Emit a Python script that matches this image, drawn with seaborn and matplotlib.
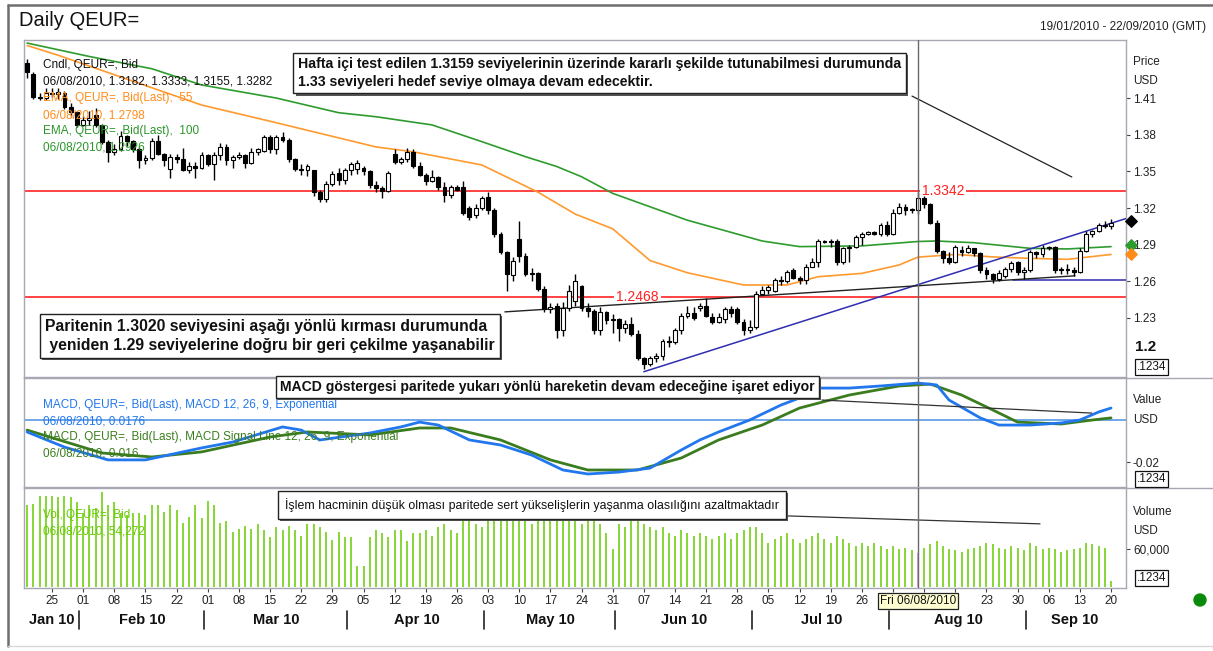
import numpy as np
import pandas as pd
import matplotlib
matplotlib.use("Agg")
import matplotlib.pyplot as plt
import seaborn as sns
from matplotlib import font_manager as fm, patheffects as pe
from matplotlib.lines import Line2D
from matplotlib.patches import Ellipse
from matplotlib.transforms import blended_transform_factory as btf

sns.set_style("white")
avail = {f.name for f in fm.fontManager.ttflist}
SANS = "Liberation Sans" if "Liberation Sans" in avail else "DejaVu Sans"
plt.rcParams["font.family"] = [SANS, "DejaVu Sans"]

# ---------------- data ----------------
DATES = pd.bdate_range("2010-01-19", "2010-09-20")

OPEN = [1.4390,1.4300,1.4110,1.4100,1.4140,1.4130,1.4145,1.4030,1.3985,1.3880,
        1.3920,1.3960,1.3880,1.3740,1.3660,1.3680,1.3790,1.3750,1.3680,1.3590,
        1.3610,1.3750,1.3640,1.3520,1.3620,1.3600,1.3510,1.3540,1.3530,1.3630,
        1.3560,1.3630,1.3700,1.3590,1.3620,1.3630,1.3570,1.3660,1.3670,1.3780,
        1.3680,1.3780,1.3760,1.3600,1.3520,1.3510,1.3510,1.3330,1.3270,1.3400,
        1.3490,1.3430,1.3510,1.3520,1.3530,1.3500,1.3390,1.3360,1.3340,1.3640,
        1.3580,1.3600,1.3660,1.3540,1.3470,1.3420,1.3450,1.3370,1.3310,1.3370,
        1.3370,1.3200,1.3140,1.3200,1.3290,1.3180,1.2990,1.2840,1.2650,1.2950,
        1.2810,1.2660,1.2670,1.2540,1.2370,1.2400,1.2200,1.2380,1.2440,1.2560,
        1.2380,1.2360,1.2200,1.2350,1.2280,1.2290,1.2220,1.2250,1.2170,1.1970,
        1.1920,1.1970,1.1990,1.2110,1.2100,1.2200,1.2320,1.2340,1.2380,1.2400,
        1.2310,1.2270,1.2290,1.2370,1.2370,1.2270,1.2200,1.2230,1.2500,1.2530,
        1.2520,1.2610,1.2600,1.2690,1.2630,1.2610,1.2720,1.2760,1.2930,1.2920,
        1.2930,1.2760,1.2870,1.2880,1.2960,1.2990,1.3000,1.2990,1.3060,1.2990,
        1.3160,1.3210,1.3180,1.3182,1.3280,1.3230,1.3080,1.2850,1.2790,1.2760,
        1.2860,1.2840,1.2870,1.2830,1.2690,1.2660,1.2620,1.2640,1.2700,1.2760,
        1.2680,1.2690,1.2840,1.2820,1.2870,1.2880,1.2690,1.2700,1.2690,1.2680,
        1.2850,1.2990,1.3010,1.3060,1.3050]
HIGH = [1.4420,1.4310,1.4140,1.4180,1.4185,1.4180,1.4160,1.4060,1.3990,1.3950,
        1.3990,1.4015,1.3890,1.3760,1.3720,1.3830,1.3800,1.3760,1.3700,1.3630,
        1.3770,1.3800,1.3650,1.3640,1.3640,1.3690,1.3580,1.3580,1.3660,1.3640,
        1.3660,1.3730,1.3720,1.3630,1.3660,1.3640,1.3690,1.3690,1.3800,1.3800,
        1.3800,1.3825,1.3770,1.3610,1.3560,1.3560,1.3510,1.3350,1.3420,1.3500,
        1.3525,1.3530,1.3580,1.3590,1.3540,1.3510,1.3420,1.3380,1.3500,1.3680,
        1.3620,1.3690,1.3680,1.3580,1.3490,1.3510,1.3460,1.3410,1.3390,1.3390,
        1.3420,1.3220,1.3230,1.3300,1.3330,1.3200,1.3000,1.2850,1.2800,1.3090,
        1.2830,1.2710,1.2680,1.2560,1.2420,1.2420,1.2430,1.2570,1.2660,1.2570,
        1.2420,1.2370,1.2390,1.2360,1.2330,1.2300,1.2280,1.2310,1.2200,1.1980,
        1.1990,1.2010,1.2130,1.2150,1.2220,1.2340,1.2400,1.2390,1.2420,1.2460,
        1.2340,1.2340,1.2390,1.2400,1.2390,1.2290,1.2280,1.2520,1.2560,1.2570,
        1.2630,1.2640,1.2690,1.2710,1.2640,1.2740,1.2790,1.2950,1.2940,1.2950,
        1.2950,1.2880,1.2900,1.2980,1.3000,1.3010,1.3010,1.3080,1.3090,1.3190,
        1.3240,1.3230,1.3200,1.3333,1.3300,1.3240,1.3100,1.2860,1.2840,1.2900,
        1.2890,1.2900,1.2870,1.2840,1.2720,1.2670,1.2690,1.2720,1.2770,1.2770,
        1.2720,1.2860,1.2850,1.2900,1.2890,1.2890,1.2720,1.2740,1.2720,1.2870,
        1.3010,1.3020,1.3080,1.3090,1.3110]
LOW = [1.4265,1.4090,1.4080,1.4085,1.4110,1.4095,1.4010,1.3945,1.3860,1.3870,
       1.3880,1.3860,1.3720,1.3580,1.3630,1.3670,1.3710,1.3660,1.3530,1.3560,
       1.3590,1.3630,1.3540,1.3445,1.3570,1.3500,1.3490,1.3445,1.3520,1.3540,
       1.3430,1.3590,1.3550,1.3525,1.3600,1.3525,1.3560,1.3630,1.3660,1.3650,
       1.3640,1.3740,1.3580,1.3500,1.3470,1.3460,1.3300,1.3250,1.3250,1.3380,
       1.3390,1.3400,1.3470,1.3480,1.3470,1.3360,1.3330,1.3280,1.3330,1.3560,
       1.3560,1.3580,1.3530,1.3460,1.3390,1.3410,1.3350,1.3250,1.3280,1.3340,
       1.3140,1.3100,1.3120,1.3180,1.3150,1.2960,1.2820,1.2520,1.2600,1.2760,
       1.2640,1.2600,1.2520,1.2350,1.2340,1.2140,1.2150,1.2360,1.2400,1.2360,
       1.2310,1.2170,1.2160,1.2250,1.2180,1.2110,1.2180,1.2150,1.1960,1.1880,
       1.1910,1.1940,1.1960,1.2060,1.2090,1.2170,1.2300,1.2280,1.2360,1.2310,
       1.2250,1.2260,1.2260,1.2310,1.2250,1.2160,1.2180,1.2210,1.2490,1.2500,
       1.2510,1.2570,1.2590,1.2620,1.2580,1.2580,1.2720,1.2720,1.2910,1.2880,
       1.2730,1.2740,1.2760,1.2870,1.2900,1.2980,1.2980,1.2970,1.2970,1.2980,
       1.3150,1.3140,1.3160,1.3155,1.3200,1.3070,1.2830,1.2750,1.2740,1.2750,
       1.2810,1.2830,1.2810,1.2670,1.2620,1.2590,1.2600,1.2630,1.2680,1.2650,
       1.2620,1.2680,1.2790,1.2800,1.2860,1.2670,1.2660,1.2660,1.2640,1.2670,
       1.2840,1.2960,1.3000,1.3040,1.3030]
CLOSE = [1.4310,1.4110,1.4100,1.4140,1.4130,1.4150,1.4030,1.3985,1.3880,1.3920,
         1.3940,1.3880,1.3740,1.3660,1.3680,1.3790,1.3750,1.3680,1.3590,1.3610,
         1.3750,1.3640,1.3590,1.3620,1.3600,1.3510,1.3540,1.3530,1.3630,1.3560,
         1.3630,1.3700,1.3590,1.3620,1.3630,1.3570,1.3660,1.3680,1.3780,1.3680,
         1.3780,1.3760,1.3600,1.3520,1.3510,1.3540,1.3330,1.3270,1.3400,1.3480,
         1.3430,1.3510,1.3560,1.3570,1.3500,1.3390,1.3360,1.3340,1.3490,1.3580,
         1.3600,1.3660,1.3540,1.3470,1.3420,1.3450,1.3370,1.3310,1.3370,1.3350,
         1.3160,1.3130,1.3200,1.3280,1.3180,1.2990,1.2840,1.2660,1.2770,1.2810,
         1.2660,1.2670,1.2540,1.2370,1.2390,1.2200,1.2380,1.2520,1.2600,1.2380,
         1.2360,1.2200,1.2350,1.2280,1.2290,1.2220,1.2250,1.2170,1.1970,1.1920,
         1.1970,1.1990,1.2110,1.2100,1.2200,1.2320,1.2340,1.2300,1.2400,1.2320,
         1.2270,1.2310,1.2370,1.2340,1.2270,1.2200,1.2230,1.2500,1.2530,1.2550,
         1.2610,1.2600,1.2680,1.2630,1.2610,1.2720,1.2760,1.2930,1.2920,1.2930,
         1.2760,1.2870,1.2880,1.2960,1.2990,1.3000,1.2990,1.3060,1.2990,1.3160,
         1.3210,1.3180,1.3190,1.3282,1.3230,1.3080,1.2850,1.2790,1.2760,1.2880,
         1.2840,1.2870,1.2830,1.2690,1.2660,1.2620,1.2670,1.2700,1.2750,1.2680,
         1.2690,1.2840,1.2820,1.2870,1.2880,1.2690,1.2700,1.2690,1.2680,1.2850,
         1.2990,1.3010,1.3060,1.3050,1.3080]
VOLUME_K = [129,131,144,144,144,142,144,142,134,117,
            129,125,150,129,134,117,114,117,117,114,
            129,129,118,129,122,101,111,129,109,136,
            129,101,104,87,92,96,92,99,90,79,
            95,90,96,90,81,99,99,95,87,74,
            87,79,79,33,33,79,90,85,79,90,
            90,73,85,85,90,80,95,100,90,85,
            115,110,100,95,105,120,135,150,140,125,
            110,100,115,120,110,120,110,115,120,100,
            105,110,100,85,60,100,95,105,110,100,
            95,90,95,85,80,90,85,80,85,80,
            75,80,85,75,85,90,95,95,85,70,
            75,80,85,75,70,75,80,85,75,70,
            80,75,70,65,70,65,70,65,60,65,
            60,62,58,54,62,68,72,65,60,58,
            55,60,62,65,70,68,62,60,65,62,
            58,70,65,60,62,60,55,58,60,62,
            70,68,65,62,10]

EMA55_IDX = [0,5,28,39,56,62,73,82,88,94,100,106,115,122,127,134,140,143,149,155,161,167,174]
EMA55_VAL = [1.453,1.445,1.4043,1.391,1.370,1.366,1.3552,1.333,1.315,1.303,1.277,1.267,1.257,
             1.257,1.2638,1.2665,1.2734,1.2798,1.282,1.280,1.2788,1.278,1.282]
EMA100_IDX = [0,10,20,28,40,50,56,65,73,80,85,89,94,106,118,124,134,143,146,152,161,167,174]
EMA100_VAL = [1.455,1.444,1.434,1.4207,1.410,1.398,1.3947,1.388,1.3743,1.362,1.354,1.3456,1.332,
              1.310,1.293,1.2884,1.289,1.2926,1.293,1.2916,1.287,1.2865,1.2884]

MACD_IDX = [0,6,13,19,28,33,41,44,47,55,60,63,66,71,76,81,86,90,95,100,105,108,111,116,121,
            124,127,132,137,143,146,148,153,156,161,166,169,172,174]
MACD_VAL = [-0.0057,-0.0129,-0.019,-0.019,-0.0133,-0.0105,-0.0033,-0.0048,-0.0095,-0.0062,
            -0.0033,-0.001,-0.0024,-0.0095,-0.0119,-0.0167,-0.0238,-0.0257,-0.0248,-0.0229,
            -0.0143,-0.0095,-0.0057,0.0,0.0071,0.0105,0.0152,0.0152,0.0162,0.0176,
            0.0167,0.0095,0.001,-0.0024,-0.0024,-0.0014,0.0,0.0038,0.0057]
SIGNAL_IDX = [0,12,20,28,39,45,55,63,68,76,84,90,98,105,111,118,124,132,140,145,150,155,159,166,171,174]
SIGNAL_VAL = [-0.0048,-0.0157,-0.0176,-0.0152,-0.0081,-0.0057,-0.0071,-0.0038,-0.0038,-0.0095,
              -0.019,-0.0238,-0.0238,-0.0181,-0.0095,-0.0024,0.0057,0.0119,0.0162,0.0171,
              0.0119,0.0048,-0.001,-0.0019,0.0,0.001]

RED_LEVELS = [1.3342, 1.2468]
RED_LABEL_IDX = [147, 98]
BLUE_TREND = ([99, 176.4], [1.186, 1.3114])
BLUE_FLAT = ([158.3, 176.4], [1.2611, 1.2611])
BLACK_TREND = ([76.7, 168.2], [1.2350, 1.2645])
NOTE_LINE_P = ([142.05, 167.7], [1.4116, 1.3454])
NOTE_LINE_M = ([127.6, 170.9], [0.0095, 0.0033])
NOTE_LINE_V = ([122.1, 162.6], [112, 99.5])
LAST_MARKERS = [1.3093, 1.2897, 1.2826]

PRICE_TICKS = [1.23, 1.26, 1.29, 1.32, 1.35, 1.38, 1.41]
CURSOR_IDX = 143
HIDDEN_DAY_LABELS = ["2010-08-02", "2010-08-09", "2010-08-16"]  # covered by the cursor tooltip

# ---------------- figure ----------------
W, H = 1213, 651
fig = plt.figure(figsize=(W / 100, H / 100), dpi=100)
fig.patch.set_facecolor("white")


def fx(x):
    return x / W


def fy(y):
    return 1 - y / H


L, R = 24, 1126
ax_p = fig.add_axes([fx(L), fy(377), (R - L) / W, (377 - 40) / H])
ax_m = fig.add_axes([fx(L), fy(487), (R - L) / W, (487 - 378) / H], sharex=ax_p)
ax_v = fig.add_axes([fx(L), fy(588), (R - L) / W, (588 - 488) / H], sharex=ax_p)

SPINE = "#A8A8B4"
for ax in (ax_p, ax_m, ax_v):
    ax.set_facecolor("white")
    for s in ax.spines.values():
        s.set_color(SPINE)
        s.set_linewidth(1)
    ax.yaxis.tick_right()
    ax.tick_params(axis="y", which="both", direction="out", length=3, width=0.8,
                   color="#444444", labelsize=8.5, labelcolor="#222222", pad=2,
                   left=False, labelleft=False)
    ax.grid(False)

ax_p.set_xlim(-0.5, 176.4)
ax_p.set_ylim(1.1817, 1.4575)
ax_m.set_ylim(-0.0319, 0.0200)
ax_v.set_ylim(-1.6, 156)

x = np.arange(len(DATES))
O = np.array(OPEN); Hh = np.array(HIGH); Lo = np.array(LOW); C = np.array(CLOSE)
up = C >= O

# EMA lines
sns.lineplot(x=EMA100_IDX, y=EMA100_VAL, ax=ax_p, color="#2E9B2E", lw=1.2, zorder=2)
sns.lineplot(x=EMA55_IDX, y=EMA55_VAL, ax=ax_p, color="#FF9A2E", lw=1.2, zorder=2)

# red levels
for lev, li in zip(RED_LEVELS, RED_LABEL_IDX):
    ax_p.axhline(lev, color="#FF1010", lw=1.1, zorder=1.5)
    ax_p.text(li, lev, f"{lev:.4f}", color="#FF2020", fontsize=10, ha="center", va="center",
              bbox=dict(boxstyle="square,pad=0.15", fc="white", ec="none"), zorder=2.5)

# trend lines
sns.lineplot(x=BLUE_TREND[0], y=BLUE_TREND[1], ax=ax_p, color="#2E2EB0", lw=1.1, zorder=2.6)
sns.lineplot(x=BLUE_FLAT[0], y=BLUE_FLAT[1], ax=ax_p, color="#2E2EB0", lw=1.1, zorder=2.6)
sns.lineplot(x=BLACK_TREND[0], y=BLACK_TREND[1], ax=ax_p, color="#222222", lw=1.0, zorder=2.6)
sns.lineplot(x=NOTE_LINE_P[0], y=NOTE_LINE_P[1], ax=ax_p, color="#222222", lw=0.9, zorder=2.6)

# candles
ax_p.vlines(x, Lo, Hh, color="black", lw=1, zorder=3)
ax_p.bar(x[up], np.maximum(C[up] - O[up], 0.0002), bottom=O[up], width=0.62,
         color="white", edgecolor="black", lw=0.8, zorder=4)
ax_p.bar(x[~up], O[~up] - C[~up], bottom=C[~up], width=0.62,
         color="black", edgecolor="black", lw=0.8, zorder=4)

# last value markers
for val, col in zip(LAST_MARKERS, ["black", "#2E9B2E", "#FF8C1A"]):
    ax_p.scatter([177.2], [val], marker="D", s=34, color=col, clip_on=False, zorder=6)

# MACD
ax_m.axhline(0, color="#4A90E2", lw=1.1, zorder=1)
sns.lineplot(x=SIGNAL_IDX, y=SIGNAL_VAL, ax=ax_m, color="#3B7D1E", lw=2.0, zorder=3)
sns.lineplot(x=MACD_IDX, y=MACD_VAL, ax=ax_m, color="#2277EE", lw=2.0, zorder=3)
sns.lineplot(x=NOTE_LINE_M[0], y=NOTE_LINE_M[1], ax=ax_m, color="#333333", lw=0.9, zorder=4)

# Volume
vcol = ["#E080E0" if i == CURSOR_IDX else "#66CC00" for i in x]
ax_v.vlines(x, 0, VOLUME_K, colors=vcol, lw=1.1, zorder=2)
sns.lineplot(x=NOTE_LINE_V[0], y=NOTE_LINE_V[1], ax=ax_v, color="#333333", lw=0.9, zorder=4)

# cursor
for ax in (ax_p, ax_m, ax_v):
    ax.axvline(CURSOR_IDX, color="#6A6A6A", lw=1, zorder=5)
    ax.set_xlabel("")
    ax.set_ylabel("")

# y ticks
ax_p.set_yticks(PRICE_TICKS)
ax_p.set_yticklabels([f"{t:.2f}" for t in PRICE_TICKS])
ax_m.set_yticks([-0.02])
ax_m.set_yticklabels(["-0.02"])
ax_v.set_yticks([60])
ax_v.set_yticklabels(["60,000"])

# x ticks
hidden = set(pd.to_datetime(HIDDEN_DAY_LABELS))
mondays = [i for i, d in enumerate(DATES) if d.weekday() == 0]
ax_v.set_xticks(mondays)
ax_v.set_xticklabels(["" if DATES[i] in hidden else DATES[i].strftime("%d") for i in mondays])
ax_v.tick_params(axis="x", direction="out", length=3, width=0.8, color="#444444",
                 labelsize=8.5, labelcolor="#222222", pad=2, bottom=True)
for ax in (ax_p, ax_m):
    ax.tick_params(axis="x", bottom=False, labelbottom=False)

# month labels & separators
tr = btf(ax_v.transData, fig.transFigure)
months = pd.Series(range(len(DATES)), index=DATES).groupby(DATES.to_period("M"))
for per, grp in months:
    s, e = grp.iloc[0], grp.iloc[-1]
    cx = (max(s, -0.5) + min(e + 1.4, 176.4)) / 2 if per.month == 9 else (s + e) / 2
    ax_v.text(cx, fy(620), per.strftime("%b %y"), transform=tr, ha="center", va="center",
              fontsize=10.5, fontweight="bold", color="#111111")
    if s > 0:
        ax_v.add_line(Line2D([s - 0.6, s - 0.6], [fy(629), fy(611)], transform=tr,
                             color="#222222", lw=1.2, clip_on=False))

# ---------------- texts ----------------
def ftext(x0, y0, s, **kw):
    return fig.text(fx(x0), fy(y0), s, **kw)


ftext(19, 20, "Daily QEUR=", fontsize=14.5, va="center", ha="left", color="#111111")
ftext(1206, 27, "19/01/2010 - 22/09/2010 (GMT)", fontsize=8.5, va="center", ha="right",
      color="#222222")

leg = dict(fontsize=8.5, va="center", ha="left")
ftext(43, 65, "Cndl, QEUR=, Bid", color="#111111", **leg)
ftext(43, 81, "06/08/2010, 1.3182, 1.3333, 1.3155, 1.3282", color="#111111", **leg)
ftext(43, 98, "EMA, QEUR=, Bid(Last),  55", color="#FF8C1A", **leg)
ftext(43, 115, "06/08/2010, 1.2798", color="#FF8C1A", **leg)
ftext(43, 131, "EMA, QEUR=, Bid(Last),  100", color="#2A962A", **leg)
ftext(43, 147, "06/08/2010, 1.2926", color="#2A962A", **leg)
ftext(43, 405, "MACD, QEUR=, Bid(Last), MACD 12, 26, 9, Exponential", color="#2277EE", **leg)
ftext(43, 421, "06/08/2010, 0.0176", color="#2277EE", **leg)
ftext(43, 437, "MACD, QEUR=, Bid(Last), MACD Signal Line 12, 26, 9, Exponential",
      color="#3B7D1E", **leg)
ftext(43, 454, "06/08/2010, 0.016", color="#3B7D1E", **leg)
ftext(43, 515, "Vol, QEUR=, Bid", color="#66CC00", **leg)
ftext(43, 532, "06/08/2010, 54,272", color="#66CC00", **leg)

rl = dict(fontsize=8.5, va="center", ha="left", color="#222222")
ftext(1133, 62, "Price", **rl)
ftext(1133, 81, "USD", **rl)
ftext(1133, 400, "Value", **rl)
ftext(1133, 420, "USD", **rl)
ftext(1133, 512, "Volume", **rl)
ftext(1133, 531, "USD", **rl)
ftext(1135, 347, "1.2", fontsize=11, fontweight="bold", va="center", ha="left", color="#111111")
for yy in (367, 479, 578):
    ftext(1137, yy, ".1234", fontsize=8.5, va="center", ha="left", color="#111111",
          bbox=dict(boxstyle="square,pad=0.15", fc="white", ec="#111111", lw=0.9))


def note(x0, y0, s, size, weight, pad):
    t = ftext(x0, y0, s, fontsize=size, fontweight=weight, va="center", ha="left",
              color="#111111", linespacing=1.3, zorder=10,
              bbox=dict(boxstyle=f"square,pad={pad}", fc="white", ec="#222222", lw=1.0))
    t.get_bbox_patch().set_path_effects(
        [pe.withSimplePatchShadow(offset=(1.6, -1.6), shadow_rgbFace="#555555", alpha=1)])
    return t


note(298, 73, "Hafta içi test edilen 1.3159 seviyelerinin üzerinde kararlı şekilde tutunabilmesi durumunda\n"
              "1.33 seviyeleri hedef seviye olmaya devam edecektir.", 10.2, "bold", 0.33)
note(45, 336, "Paritenin 1.3020 seviyesini aşağı yönlü kırması durumunda\n"
              " yeniden 1.29 seviyelerine doğru bir geri çekilme yaşanabilir", 11.3, "bold", 0.33)
note(280, 387, "MACD göstergesi paritede yukarı yönlü hareketin devam edeceğine işaret ediyor",
     10.05, "bold", 0.3)
note(285, 505, "İşlem hacminin düşük olması paritede sert yükselişlerin yaşanma olasılığını azaltmaktadır",
     8.9, "normal", 0.55)

ftext(918, 601, "Fri 06/08/2010", fontsize=8.5, ha="center", va="center", color="#111111",
      zorder=10, bbox=dict(boxstyle="square,pad=0.2", fc="#FFFFD2", ec="#222222", lw=0.9))

# figure frame and decorations
def fline(x0, y0, x1, y1, c, lw):
    fig.add_artist(Line2D([fx(x0), fx(x1)], [fy(y0), fy(y1)], color=c, lw=lw))


fline(8, 5, 1213, 5, "#6E6E6E", 1.8)
fline(8, 5, 8, 646, "#6E6E6E", 1.8)
fline(8, 646, 1213, 646, "#D8D8D8", 1.0)
fline(R, 377.5, 1213, 377.5, SPINE, 1.0)
fline(R, 487.5, 1213, 487.5, SPINE, 1.0)
fig.add_artist(Ellipse((fx(1200), fy(600)), 12 / W, 12 / H, transform=fig.transFigure,
                       color="#0A8A0A"))

fig.savefig("out.png", dpi=100, facecolor="white")
